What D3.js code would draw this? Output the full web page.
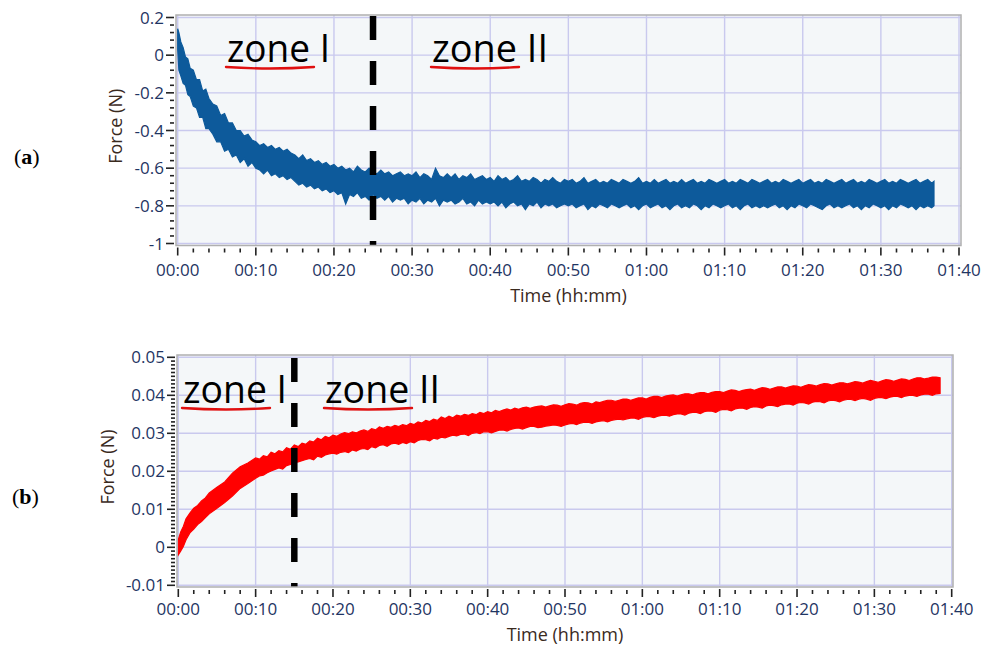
<!DOCTYPE html>
<html>
<head>
<meta charset="utf-8">
<script src="https://cdn.jsdelivr.net/npm/d3@7"></script>
<style>
  html, body { margin: 0; padding: 0; background: #ffffff; }
  svg { display: block; }
</style>
</head>
<body>
<svg id="chart" width="988" height="645"></svg>
<script>
// ---------------- DATA ----------------
const timeTicks = [0, 10, 20, 30, 40, 50, 60, 70, 80, 90, 100];
const timeTickLabels = ["00:00","00:10","00:20","00:30","00:40","00:50","01:00","01:10","01:20","01:30","01:40"];

// Panel (a): upper / lower envelope of the noisy force signal (N), time in minutes
const timeA = [0,0.15,0.4,0.7,1,1.3,1.6,2,2.4,2.8,3.2,3.6,4,4.5,5,5.5,6,6.5,7,7.5,8,8.5,9,9.5,
  10,10.5,11,11.5,12,12.5,13,13.5,14,14.5, 15,15.5,16,16.5,17,17.5,18,18.5,19,19.5,
  20,20.5,21,21.5,22,22.5,23,23.5,24,24.5, 25,25.5,26,26.5,27,27.5,28,28.5,29,29.5,
  30,30.5,31,31.5,32,32.5,33,33.5,34,34.5, 35,35.5,36,36.5,37,37.5,38,38.5,39,39.5,
  40,40.5,41,41.5,42,42.5,43,43.5,44,44.5, 45,45.5,46,46.5,47,47.5,48,48.5,49,49.5,
  50,50.5,51,51.5,52,52.5,53,53.5,54,54.5, 55,55.5,56,56.5,57,57.5,58,58.5,59,59.5,
  60,60.5,61,61.5,62,62.5,63,63.5,64,64.5, 65,65.5,66,66.5,67,67.5,68,68.5,69,69.5,
  70,70.5,71,71.5,72,72.5,73,73.5,74,74.5, 75,75.5,76,76.5,77,77.5,78,78.5,79,79.5,
  80,80.5,81,81.5,82,82.5,83,83.5,84,84.5, 85,85.5,86,86.5,87,87.5,88,88.5,89,89.5,
  90,90.5,91,91.5,92,92.5,93,93.5,94,94.5, 95,95.5,96,96.5,96.8];
const upperA = [0.14,0.12,0.07,0.04,-0.01,-0.02,-0.07,-0.08,-0.13,-0.13,-0.19,-0.18,-0.23,-0.26,-0.27,-0.32,-0.31,-0.36,-0.36,-0.40,-0.40,-0.43,-0.42,-0.45,
  -0.46,-0.48,-0.47,-0.49,-0.48,-0.50,-0.49,-0.51,-0.50,-0.52, -0.53,-0.55,-0.53,-0.56,-0.55,-0.57,-0.56,-0.58,-0.57,-0.59,
  -0.58,-0.60,-0.59,-0.61,-0.60,-0.62,-0.59,-0.61,-0.62,-0.60, -0.62,-0.63,-0.61,-0.63,-0.62,-0.64,-0.63,-0.62,-0.64,-0.63,
  -0.64,-0.62,-0.65,-0.63,-0.64,-0.66,-0.60,-0.64,-0.65,-0.63, -0.65,-0.63,-0.66,-0.64,-0.65,-0.63,-0.66,-0.65,-0.64,-0.66,
  -0.65,-0.67,-0.64,-0.66,-0.65,-0.67,-0.66,-0.64,-0.67,-0.66, -0.67,-0.65,-0.66,-0.68,-0.66,-0.67,-0.65,-0.67,-0.68,-0.66,
  -0.67,-0.66,-0.68,-0.67,-0.65,-0.68,-0.67,-0.66,-0.68,-0.67, -0.68,-0.66,-0.67,-0.68,-0.66,-0.67,-0.68,-0.67,-0.65,-0.68,
  -0.67,-0.68,-0.66,-0.68,-0.67,-0.66,-0.68,-0.67,-0.68,-0.66, -0.68,-0.67,-0.66,-0.68,-0.67,-0.68,-0.66,-0.67,-0.68,-0.67,
  -0.66,-0.68,-0.67,-0.68,-0.66,-0.67,-0.68,-0.66,-0.67,-0.68, -0.67,-0.66,-0.68,-0.67,-0.68,-0.66,-0.67,-0.68,-0.67,-0.66,
  -0.68,-0.67,-0.66,-0.68,-0.67,-0.68,-0.66,-0.67,-0.68,-0.67, -0.66,-0.68,-0.67,-0.66,-0.68,-0.67,-0.68,-0.66,-0.67,-0.68,
  -0.67,-0.66,-0.68,-0.67,-0.68,-0.66,-0.67,-0.68,-0.67,-0.66, -0.68,-0.67,-0.66,-0.68,-0.67];
const lowerA = [0.03,-0.08,-0.11,-0.15,-0.16,-0.21,-0.22,-0.27,-0.28,-0.33,-0.33,-0.39,-0.39,-0.42,-0.46,-0.46,-0.51,-0.50,-0.54,-0.53,-0.57,-0.55,-0.59,-0.57,
  -0.60,-0.61,-0.63,-0.61,-0.64,-0.63,-0.65,-0.64,-0.66,-0.65, -0.67,-0.69,-0.68,-0.70,-0.69,-0.71,-0.70,-0.72,-0.71,-0.73,
  -0.72,-0.74,-0.73,-0.79,-0.74,-0.75,-0.73,-0.76,-0.75,-0.77, -0.74,-0.76,-0.75,-0.77,-0.75,-0.78,-0.76,-0.77,-0.76,-0.79,
  -0.77,-0.78,-0.76,-0.79,-0.77,-0.78,-0.76,-0.80,-0.77,-0.78, -0.77,-0.79,-0.78,-0.76,-0.79,-0.78,-0.80,-0.77,-0.79,-0.78,
  -0.79,-0.78,-0.80,-0.78,-0.81,-0.79,-0.78,-0.80,-0.79,-0.82, -0.79,-0.80,-0.78,-0.81,-0.79,-0.80,-0.79,-0.81,-0.80,-0.79,
  -0.80,-0.79,-0.81,-0.80,-0.79,-0.82,-0.80,-0.81,-0.79,-0.80, -0.81,-0.79,-0.80,-0.81,-0.80,-0.79,-0.81,-0.80,-0.82,-0.80,
  -0.79,-0.81,-0.80,-0.79,-0.81,-0.80,-0.82,-0.80,-0.79,-0.81, -0.80,-0.81,-0.79,-0.80,-0.82,-0.80,-0.81,-0.79,-0.80,-0.81,
  -0.80,-0.79,-0.81,-0.80,-0.82,-0.80,-0.79,-0.81,-0.80,-0.81, -0.80,-0.81,-0.80,-0.79,-0.81,-0.80,-0.82,-0.80,-0.81,-0.79,
  -0.80,-0.81,-0.79,-0.80,-0.81,-0.82,-0.80,-0.79,-0.81,-0.80, -0.81,-0.80,-0.79,-0.81,-0.80,-0.82,-0.80,-0.81,-0.79,-0.80,
  -0.81,-0.80,-0.82,-0.80,-0.81,-0.79,-0.80,-0.81,-0.80,-0.82, -0.80,-0.81,-0.80,-0.81,-0.80];
const forceTicksA = [0.2, 0, -0.2, -0.4, -0.6, -0.8, -1];
const forceTickLabelsA = ["0.2", "0", "-0.2", "-0.4", "-0.6", "-0.8", "-1"];
const zoneBoundaryA = 25;   // minutes

// Panel (b)
const timeB = [0,0.3,0.65,1,1.5,2,2.5,3,3.5,4,5,6,7,8,9,
  10,10.5,11,11.5,12,12.5,13,13.5,14,14.5, 15,15.5,16,16.5,17,17.5,18,18.5,19,19.5,
  20,20.5,21,21.5,22,22.5,23,23.5,24,24.5, 25,25.5,26,26.5,27,27.5,28,28.5,29,29.5,
  30,30.5,31,31.5,32,32.5,33,33.5,34,34.5, 35,35.5,36,36.5,37,37.5,38,38.5,39,39.5,
  40,40.5,41,41.5,42,42.5,43,43.5,44,44.5, 45,45.5,46,46.5,47,47.5,48,48.5,49,49.5,
  50,50.5,51,51.5,52,52.5,53,53.5,54,54.5, 55,55.5,56,56.5,57,57.5,58,58.5,59,59.5,
  60,60.5,61,61.5,62,62.5,63,63.5,64,64.5, 65,65.5,66,66.5,67,67.5,68,68.5,69,69.5,
  70,70.5,71,71.5,72,72.5,73,73.5,74,74.5, 75,75.5,76,76.5,77,77.5,78,78.5,79,79.5,
  80,80.5,81,81.5,82,82.5,83,83.5,84,84.5, 85,85.5,86,86.5,87,87.5,88,88.5,89,89.5,
  90,90.5,91,91.5,92,92.5,93,93.5,94,94.5, 95,95.5,96,96.5,97,97.5,98,98.5];
const upperB = [0.002,0.004,0.0055,0.0075,0.009,0.0103,0.011,0.0122,0.013,0.0143,0.0158,0.0172,0.0195,0.0212,0.0222,
  0.0235,0.0232,0.0241,0.0238,0.0250,0.0246,0.0254,0.0251,0.0262,0.0258, 0.0269,0.0265,0.0274,0.0271,0.0280,0.0277,0.0287,0.0283,0.0292,0.0288,
  0.0295,0.0292,0.0298,0.0302,0.0299,0.0304,0.0301,0.0306,0.0309,0.0305, 0.0312,0.0309,0.0317,0.0313,0.0318,0.0316,0.0321,0.0318,0.0323,0.0320,
  0.0326,0.0323,0.0330,0.0327,0.0334,0.0331,0.0337,0.0334,0.0343,0.0339, 0.0345,0.0341,0.0348,0.0345,0.0350,0.0347,0.0352,0.0349,0.0355,0.0352,
  0.0357,0.0354,0.0360,0.0357,0.0361,0.0364,0.0361,0.0366,0.0363,0.0367, 0.0369,0.0366,0.0369,0.0371,0.0372,0.0369,0.0372,0.0375,0.0374,0.0371,
  0.0375,0.0378,0.0377,0.0374,0.0379,0.0381,0.0380,0.0377,0.0383,0.0381, 0.0384,0.0387,0.0387,0.0384,0.0387,0.0390,0.0390,0.0387,0.0390,0.0393,
  0.0393,0.0390,0.0395,0.0397,0.0397,0.0394,0.0398,0.0400,0.0401,0.0398, 0.0401,0.0404,0.0404,0.0401,0.0405,0.0407,0.0407,0.0404,0.0408,0.0410,
  0.0410,0.0407,0.0411,0.0414,0.0413,0.0410,0.0413,0.0415,0.0416,0.0413, 0.0417,0.0420,0.0419,0.0416,0.0419,0.0422,0.0422,0.0419,0.0422,0.0425,
  0.0424,0.0421,0.0425,0.0428,0.0427,0.0424,0.0428,0.0431,0.0430,0.0427, 0.0430,0.0433,0.0433,0.0430,0.0433,0.0436,0.0435,0.0432,0.0436,0.0439,
  0.0437,0.0434,0.0438,0.0441,0.0440,0.0437,0.0440,0.0443,0.0442,0.0439, 0.0443,0.0446,0.0446,0.0443,0.0445,0.0448,0.0448,0.0446];
const lowerB = [-0.002,-0.001,0.0002,0.002,0.0038,0.0048,0.006,0.0068,0.0078,0.0088,0.0103,0.0118,0.0135,0.0155,0.0168,
  0.0182,0.0188,0.0190,0.0196,0.0201,0.0205,0.0209,0.0206,0.0215,0.0218, 0.0221,0.0225,0.0228,0.0231,0.0234,0.0230,0.0240,0.0237,0.0243,0.0246,
  0.0248,0.0245,0.0250,0.0252,0.0249,0.0256,0.0253,0.0258,0.0260,0.0257, 0.0265,0.0262,0.0268,0.0270,0.0266,0.0272,0.0274,0.0271,0.0276,0.0273,
  0.0278,0.0275,0.0281,0.0284,0.0283,0.0280,0.0287,0.0285,0.0290,0.0288, 0.0292,0.0295,0.0293,0.0297,0.0298,0.0294,0.0300,0.0302,0.0299,0.0304,
  0.0304,0.0301,0.0305,0.0308,0.0309,0.0306,0.0310,0.0313,0.0314,0.0311, 0.0315,0.0318,0.0318,0.0315,0.0316,0.0319,0.0320,0.0322,0.0321,0.0318,
  0.0322,0.0325,0.0326,0.0323,0.0327,0.0329,0.0329,0.0326,0.0330,0.0332, 0.0333,0.0330,0.0334,0.0336,0.0337,0.0335,0.0338,0.0340,0.0340,0.0337,
  0.0342,0.0344,0.0344,0.0341,0.0345,0.0347,0.0348,0.0345,0.0349,0.0351, 0.0351,0.0348,0.0353,0.0355,0.0355,0.0352,0.0357,0.0359,0.0358,0.0355,
  0.0361,0.0363,0.0362,0.0359,0.0364,0.0366,0.0366,0.0363,0.0368,0.0370, 0.0369,0.0366,0.0372,0.0374,0.0373,0.0370,0.0375,0.0377,0.0377,0.0374,
  0.0379,0.0381,0.0380,0.0377,0.0382,0.0384,0.0383,0.0380,0.0385,0.0387, 0.0386,0.0383,0.0387,0.0389,0.0389,0.0386,0.0390,0.0392,0.0390,0.0387,
  0.0392,0.0394,0.0394,0.0391,0.0395,0.0397,0.0397,0.0394,0.0398,0.0400, 0.0400,0.0397,0.0401,0.0403,0.0403,0.0400,0.0404,0.0405];
const forceTicksB = [0.05, 0.04, 0.03, 0.02, 0.01, 0, -0.01];
const forceTickLabelsB = ["0.05", "0.04", "0.03", "0.02", "0.01", "0", "-0.01"];
const zoneBoundaryB = 15;   // minutes

const zoneLabels = ["zone I", "zone II"];
const panelLabels = ["a", "b"];

// ---------------- DRAWING ----------------
const svg = d3.select("#chart");
const FONT = "'Open Sans', 'Noto Sans', sans-serif";

function drawPanel(p) {
  const g = svg.append("g");
  const x = d3.scaleLinear().domain([0, 100]).range([p.x0, p.x1]);
  const y = d3.scaleLinear().domain(p.yDomain).range([p.yBottom, p.yTop]);

  const clipId = "clip" + p.id;
  svg.append("clipPath").attr("id", clipId).append("rect")
    .attr("x", p.rect[0]).attr("y", p.rect[1]).attr("width", p.rect[2] - p.rect[0]).attr("height", p.rect[3] - p.rect[1]);

  g.append("rect").attr("x", p.rect[0]).attr("y", p.rect[1])
    .attr("width", p.rect[2] - p.rect[0]).attr("height", p.rect[3] - p.rect[1])
    .attr("fill", "#f4f7f9");

  const grid = g.append("g").attr("clip-path", `url(#${clipId})`);
  grid.selectAll("line.vg").data(timeTicks).join("line")
    .attr("x1", d => x(d)).attr("x2", d => x(d)).attr("y1", p.rect[1]).attr("y2", p.rect[3])
    .attr("stroke", "#c9c9ee").attr("stroke-width", 1.4);
  grid.selectAll("line.hg").data(p.yTicks).join("line")
    .attr("y1", d => y(d)).attr("y2", d => y(d)).attr("x1", p.rect[0]).attr("x2", p.rect[2])
    .attr("stroke", "#c9c9ee").attr("stroke-width", 1.4);

  const n = Math.min(p.time.length, p.upper.length, p.lower.length);
  const pts = p.time.slice(0, n).map((t, i) => ({ t, hi: p.upper[i], lo: p.lower[i] }));
  const area = d3.area().x(d => x(d.t)).y0(d => y(d.lo)).y1(d => y(d.hi));
  grid.append("path").datum(pts).attr("d", area)
    .attr("fill", p.color).attr("stroke", p.color).attr("stroke-width", 1.2).attr("stroke-linejoin", "miter");

  g.append("line")
    .attr("x1", x(p.boundary)).attr("x2", x(p.boundary))
    .attr("y1", p.rect[1] + p.dashStart).attr("y2", p.rect[3])
    .attr("stroke", "#000").attr("stroke-width", 6.5).attr("stroke-dasharray", "24 21");

  g.append("rect").attr("x", p.rect[0]).attr("y", p.rect[1])
    .attr("width", p.rect[2] - p.rect[0]).attr("height", p.rect[3] - p.rect[1])
    .attr("fill", "none").attr("stroke", "#b0b0b0").attr("stroke-width", 1.5);

  const yMinor = [];
  for (let i = 0; i < p.yTicks.length - 1; i++) {
    const a = p.yTicks[i], b = p.yTicks[i + 1];
    for (let k = 1; k < p.yMinorN; k++) yMinor.push(a + (b - a) * k / p.yMinorN);
  }
  g.selectAll("line.ymin").data(yMinor).join("line")
    .attr("x1", p.rect[0] - 6).attr("x2", p.rect[0] - 2).attr("y1", d => y(d)).attr("y2", d => y(d))
    .attr("stroke", "#222").attr("stroke-width", 1.6);
  g.selectAll("line.ymaj").data(p.yTicks).join("line")
    .attr("x1", p.rect[0] - 10).attr("x2", p.rect[0] - 2).attr("y1", d => y(d)).attr("y2", d => y(d))
    .attr("stroke", "#222").attr("stroke-width", 1.6);
  g.selectAll("text.ylab").data(p.yTicks).join("text")
    .attr("x", p.rect[0] - 12).attr("y", d => y(d)).attr("dy", "0.36em")
    .attr("text-anchor", "end").attr("font-family", FONT).attr("font-size", 17)
    .attr("fill", "#1f3563").text((d, i) => p.yLabels[i]);

  const xMinor = [];
  for (let i = 0; i < timeTicks.length - 1; i++) {
    for (let k = 1; k < 5; k++) xMinor.push(timeTicks[i] + (timeTicks[i + 1] - timeTicks[i]) * k / 5);
  }
  g.selectAll("line.xmin").data(xMinor).join("line")
    .attr("x1", d => x(d)).attr("x2", d => x(d)).attr("y1", p.rect[3] + 3).attr("y2", p.rect[3] + 7)
    .attr("stroke", "#222").attr("stroke-width", 1.6);
  g.selectAll("line.xmaj").data(timeTicks).join("line")
    .attr("x1", d => x(d)).attr("x2", d => x(d)).attr("y1", p.rect[3] + 2).attr("y2", p.rect[3] + 10)
    .attr("stroke", "#222").attr("stroke-width", 1.6);
  g.selectAll("text.xlab").data(timeTicks).join("text")
    .attr("x", d => x(d)).attr("y", p.rect[3] + p.xLabOff)
    .attr("text-anchor", "middle").attr("font-family", FONT).attr("font-size", 17)
    .attr("fill", "#1f3563").text((d, i) => timeTickLabels[i]);

  g.append("text").attr("x", (p.rect[0] + p.rect[2]) / 2).attr("y", p.xTitleY)
    .attr("text-anchor", "middle").attr("font-family", FONT).attr("font-size", 18)
    .attr("fill", "#3a2a1e").text("Time (hh:mm)");
  g.append("text").attr("transform", `translate(${p.yTitleX},${(p.rect[1] + p.rect[3]) / 2 - 4}) rotate(-90)`)
    .attr("text-anchor", "middle").attr("font-family", FONT).attr("font-size", 18)
    .attr("fill", "#3a2a1e").text("Force (N)");

  p.zones.forEach((z, i) => {
    g.append("text").attr("x", z.x).attr("y", z.y)
      .attr("font-family", FONT).attr("font-size", 38).attr("fill", "#000")
      .attr("textLength", z.w).attr("lengthAdjust", "spacingAndGlyphs")
      .text(zoneLabels[i]);
    const uy = z.y + 6, ux0 = z.x - 1, ux1 = z.x + 87;
    g.append("path")
      .attr("d", `M${ux0},${uy - 1} Q${(ux0 + ux1) / 2},${uy + 2} ${ux1},${uy - 1}`)
      .attr("fill", "none").attr("stroke", "#e01010").attr("stroke-width", 2.4).attr("stroke-linecap", "round");
  });

  const pl = g.append("text").attr("x", p.labX).attr("y", p.labY)
    .attr("font-family", "'Liberation Serif', 'DejaVu Serif', serif").attr("font-size", 22).attr("fill", "#000");
  pl.append("tspan").text("(");
  pl.append("tspan").attr("font-weight", "bold").text(p.label);
  pl.append("tspan").text(")");
}

drawPanel({
  id: "a", x0: 177.7, x1: 959, yDomain: [-1, 0.2], yBottom: 243.5, yTop: 17.5,
  rect: [176, 15, 961, 245.5], yTicks: forceTicksA, yLabels: forceTickLabelsA, yMinorN: 5,
  time: timeA, upper: upperA, lower: lowerA, color: "#0d5a9b", boundary: zoneBoundaryA, dashStart: 1,
  xLabOff: 30, xTitleY: 302, yTitleX: 122,
  zones: [{ x: 227, y: 62, w: 103 }, { x: 432, y: 62, w: 116 }],
  label: panelLabels[0], labX: 14, labY: 164
});

drawPanel({
  id: "b", x0: 178.3, x1: 951.7, yDomain: [-0.01, 0.05], yBottom: 585.3, yTop: 357.3,
  rect: [177, 355, 953, 587], yTicks: forceTicksB, yLabels: forceTickLabelsB, yMinorN: 10,
  time: timeB, upper: upperB, lower: lowerB, color: "#ff0000", boundary: zoneBoundaryB, dashStart: 3,
  xLabOff: 28, xTitleY: 641, yTitleX: 114,
  zones: [{ x: 183, y: 403, w: 104 }, { x: 325, y: 403, w: 115 }],
  label: panelLabels[1], labX: 12, labY: 504
});
</script>
</body>
</html>
